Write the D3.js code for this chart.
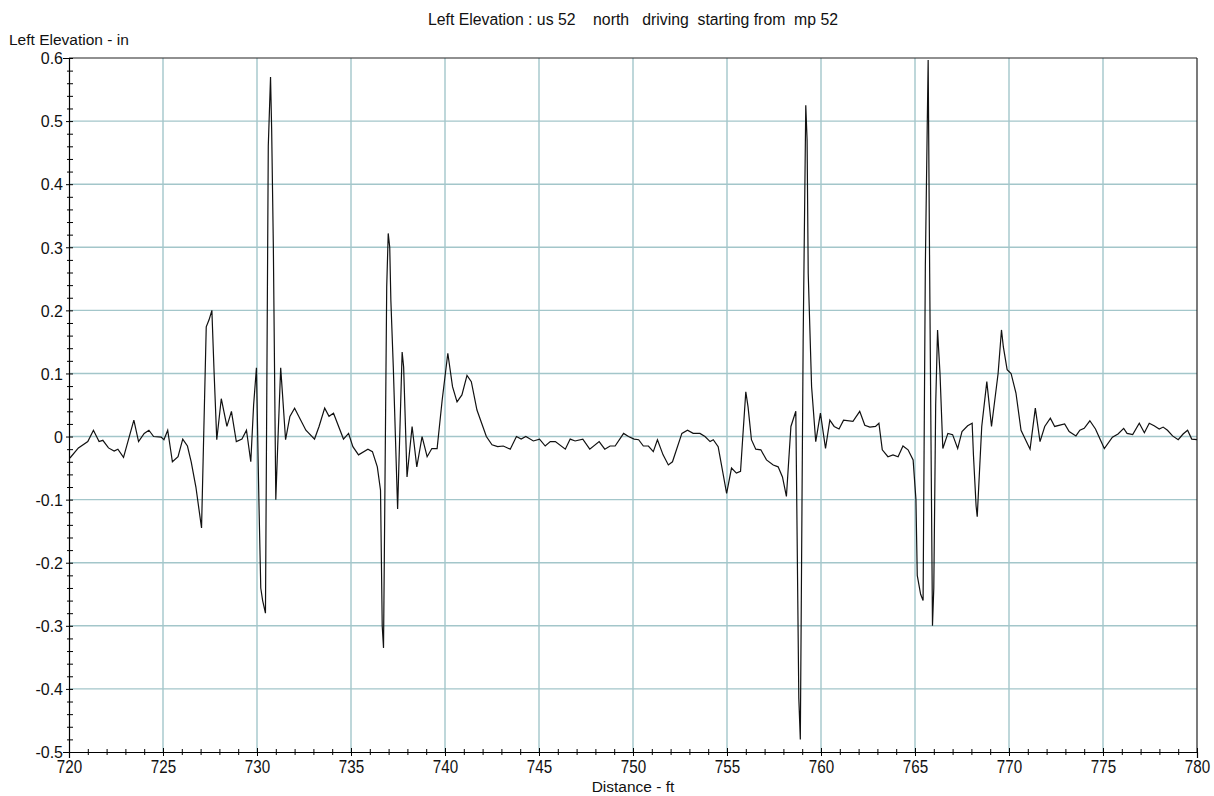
<!DOCTYPE html>
<html>
<head>
<meta charset="utf-8">
<script src="https://cdn.jsdelivr.net/npm/d3@7"></script>
<style>
  body { margin: 0; background: #fff; }
  svg { display: block; font-family: "Liberation Sans", Arial, sans-serif; }
  .tick text { font-family: "Liberation Sans", Arial, sans-serif; }
</style>
</head>
<body>
<svg width="1214" height="796"></svg>
<script>
// chart text
var chartTitle = "Left Elevation : us 52    north   driving  starting from  mp 52";
var yLabel = "Left Elevation - in";
var xLabel = "Distance - ft";

// tick labels
var xTicks = [720, 725, 730, 735, 740, 745, 750, 755, 760, 765, 770, 775, 780];
var yTicks = [0.6, 0.5, 0.4, 0.3, 0.2, 0.1, 0, -0.1, -0.2, -0.3, -0.4, -0.5];

// profile: distance (ft) and elevation (in)
var distanceFt = [
  720.05, 720.5, 721.0, 721.3, 721.6, 721.8, 722.1, 722.4, 722.6, 722.9,
  723.45, 723.7, 724.0, 724.25, 724.5, 724.9, 725.05, 725.25, 725.5, 725.8,
  726.05, 726.3, 726.5, 726.75, 727.05, 727.3, 727.45, 727.6, 727.72, 727.86,
  728.1, 728.4, 728.64, 728.9, 729.2, 729.44, 729.67, 729.82, 729.97, 730.1,
  730.2, 730.3, 730.45, 730.6, 730.72, 730.78, 730.87, 731.0, 731.1, 731.26,
  731.35, 731.52, 731.75, 732.0, 732.6, 733.06, 733.3, 733.6, 733.83, 734.07,
  734.6, 734.87, 735.1, 735.4, 735.9, 736.14, 736.4, 736.57, 736.66, 736.73,
  736.9, 736.98, 737.06, 737.12, 737.25, 737.48, 737.72, 737.8, 737.98, 738.25,
  738.5, 738.78, 739.05, 739.3, 739.58, 739.85, 740.15, 740.4, 740.64, 740.9,
  741.17, 741.4, 741.7, 741.95, 742.2, 742.5, 742.8, 743.1, 743.47, 743.8,
  744.05, 744.3, 744.7, 745.03, 745.33, 745.6, 745.87, 746.4, 746.66, 746.92,
  747.33, 747.7, 748.2, 748.5, 748.78, 749.05, 749.5, 749.76, 750.06, 750.3,
  750.55, 750.82, 751.08, 751.3, 751.6, 751.88, 752.1, 752.6, 752.9, 753.2,
  753.56, 753.83, 754.1, 754.27, 754.53, 754.98, 755.24, 755.5, 755.72, 755.83,
  756.0, 756.12, 756.3, 756.53, 756.8, 757.1, 757.46, 757.72, 757.95, 758.16,
  758.4, 758.66, 758.82, 758.9, 759.05, 759.19, 759.26, 759.32, 759.5, 759.72,
  759.97, 760.24, 760.47, 760.7, 760.96, 761.2, 761.7, 762.06, 762.33, 762.6,
  762.9, 763.08, 763.26, 763.56, 763.83, 764.1, 764.36, 764.63, 764.9, 765.05,
  765.12, 765.3, 765.43, 765.55, 765.65, 765.7, 765.78, 765.93, 766.0, 766.1,
  766.2, 766.25, 766.33, 766.48, 766.75, 767.0, 767.27, 767.5, 767.8, 768.04,
  768.11, 768.25, 768.31, 768.55, 768.82, 769.07, 769.42, 769.6, 769.7, 769.9,
  770.11, 770.37, 770.64, 771.12, 771.4, 771.65, 771.9, 772.2, 772.43, 772.96,
  773.2, 773.56, 773.77, 774.0, 774.3, 774.6, 775.07, 775.5, 775.8, 776.1,
  776.28, 776.58, 776.93, 777.2, 777.46, 777.72, 777.99, 778.2, 778.43, 778.7,
  779.0, 779.26, 779.5, 779.72, 780.0
];
var elevationIn = [
  -0.034, -0.018, -0.008, 0.010, -0.008, -0.006, -0.018, -0.023, -0.020, -0.033,
  0.026, -0.008, 0.005, 0.010, 0.000, -0.001, -0.005, 0.010, -0.040, -0.032,
  -0.004, -0.015, -0.040, -0.080, -0.145, 0.174, 0.185, 0.200, 0.100, -0.005,
  0.060, 0.016, 0.040, -0.008, -0.004, 0.010, -0.040, 0.050, 0.109, -0.100,
  -0.240, -0.260, -0.280, 0.460, 0.570, 0.486, 0.300, -0.100, -0.016, 0.109,
  0.070, -0.005, 0.032, 0.045, 0.010, -0.004, 0.016, 0.045, 0.032, 0.037,
  -0.004, 0.005, -0.016, -0.029, -0.020, -0.024, -0.048, -0.085, -0.300, -0.335,
  0.238, 0.322, 0.300, 0.216, 0.110, -0.115, 0.134, 0.110, -0.064, 0.016,
  -0.048, 0.000, -0.032, -0.019, -0.019, 0.058, 0.132, 0.079, 0.055, 0.066,
  0.097, 0.087, 0.042, 0.021, 0.000, -0.013, -0.016, -0.015, -0.020, 0.000,
  -0.004, 0.000, -0.007, -0.004, -0.015, -0.008, -0.008, -0.020, -0.004, -0.007,
  -0.004, -0.020, -0.008, -0.020, -0.015, -0.015, 0.005, 0.000, -0.004, -0.005,
  -0.015, -0.015, -0.024, -0.005, -0.029, -0.045, -0.040, 0.005, 0.010, 0.005,
  0.005, 0.000, -0.008, -0.005, -0.016, -0.090, -0.050, -0.058, -0.055, -0.005,
  0.071, 0.047, -0.005, -0.020, -0.021, -0.037, -0.045, -0.048, -0.064, -0.095,
  0.016, 0.040, -0.415, -0.480, 0.150, 0.525, 0.470, 0.259, 0.079, -0.008,
  0.037, -0.019, 0.026, 0.016, 0.012, 0.026, 0.024, 0.040, 0.018, 0.015,
  0.016, 0.021, -0.021, -0.032, -0.029, -0.032, -0.015, -0.021, -0.037, -0.100,
  -0.220, -0.250, -0.260, 0.270, 0.490, 0.597, 0.260, -0.300, -0.240, 0.050,
  0.169, 0.142, 0.100, -0.019, 0.005, 0.003, -0.019, 0.008, 0.017, 0.021,
  -0.030, -0.110, -0.127, 0.016, 0.087, 0.016, 0.100, 0.169, 0.142, 0.106,
  0.100, 0.069, 0.010, -0.020, 0.045, -0.008, 0.016, 0.029, 0.016, 0.020,
  0.008, 0.001, 0.010, 0.013, 0.025, 0.012, -0.019, -0.001, 0.004, 0.013,
  0.005, 0.003, 0.021, 0.006, 0.021, 0.017, 0.012, 0.015, 0.010, 0.001,
  -0.005, 0.004, 0.010, -0.004, -0.005
];

var svg = d3.select("svg"),
  margin = { top: 58, right: 17, bottom: 44, left: 69 },
  width = +svg.attr("width") - margin.left - margin.right,
  height = +svg.attr("height") - margin.top - margin.bottom,
  g = svg.append("g")
    .attr("transform", "translate(" + margin.left + "," + margin.top + ")");

var x = d3.scaleLinear().domain([720, 780]).range([0, width]);
var y = d3.scaleLinear().domain([-0.5, 0.6]).range([height, 0]);

var gridColor = "#a3c6ca";

// grid
g.append("g").selectAll("line")
  .data(xTicks.slice(1, -1))
  .enter().append("line")
  .attr("x1", function(d) { return x(d); })
  .attr("x2", function(d) { return x(d); })
  .attr("y1", 0).attr("y2", height)
  .attr("stroke", gridColor).attr("stroke-width", 1.4);

g.append("g").selectAll("line")
  .data(yTicks.slice(1, -1))
  .enter().append("line")
  .attr("x1", 0).attr("x2", width)
  .attr("y1", function(d) { return y(d); })
  .attr("y2", function(d) { return y(d); })
  .attr("stroke", gridColor).attr("stroke-width", 1.4);

// frame top / right
g.append("line").attr("x1", 0).attr("x2", width).attr("y1", 0).attr("y2", 0)
  .attr("stroke", "#222").attr("stroke-width", 1.2);
g.append("line").attr("x1", width).attr("x2", width).attr("y1", 0).attr("y2", height)
  .attr("stroke", "#222").attr("stroke-width", 1.2);

// profile line
var points = distanceFt.map(function(d, i) { return [d, elevationIn[i]]; });
var line = d3.line()
  .x(function(d) { return x(d[0]); })
  .y(function(d) { return y(d[1]); });

g.append("path")
  .datum(points)
  .attr("fill", "none")
  .attr("stroke", "#111")
  .attr("stroke-width", 1.2)
  .attr("d", line);

// minor ticks
var xMinor = d3.range(721, 780, 1).filter(function(v) { return v % 5 !== 0; });
var yMinor = d3.range(-48, 60, 2).filter(function(v) { return v % 10 !== 0; })
  .map(function(v) { return v / 100; });

var xMinorAxis = g.append("g")
  .attr("transform", "translate(0," + height + ")")
  .call(d3.axisBottom(x).tickValues(xMinor).tickFormat(""));
xMinorAxis.select(".domain").remove();
xMinorAxis.selectAll(".tick line").attr("y1", -3).attr("y2", 3).attr("stroke", "#000");

var yMinorAxis = g.append("g")
  .call(d3.axisLeft(y).tickValues(yMinor).tickFormat(""));
yMinorAxis.select(".domain").remove();
yMinorAxis.selectAll(".tick line").attr("x1", -2).attr("x2", 4).attr("stroke", "#000");

// main axes
var xAxis = g.append("g")
  .attr("transform", "translate(0," + height + ")")
  .call(d3.axisBottom(x).tickValues(xTicks).tickFormat(d3.format("d")));
xAxis.select(".domain").attr("stroke", "#000").attr("stroke-width", 1.2);
xAxis.selectAll(".tick line").attr("y1", -4).attr("y2", 4).attr("stroke", "#000");
xAxis.selectAll(".tick text")
  .attr("y", 18.6).attr("dy", null)
  .attr("transform", "scale(0.95,1.15)")
  .attr("font-size", 16).attr("fill", "#111");

var yAxis = g.append("g")
  .call(d3.axisLeft(y).tickValues(yTicks).tickFormat(function(d) {
    return d === 0 ? "0" : d.toFixed(1);
  }));
yAxis.select(".domain").attr("stroke", "#000").attr("stroke-width", 1.2);
yAxis.selectAll(".tick line").attr("x1", -3).attr("x2", 4).attr("stroke", "#000");
yAxis.selectAll(".tick text")
  .attr("x", -6).attr("dy", "0.36em")
  .attr("font-size", 16).attr("fill", "#111");

// labels
svg.append("text")
  .attr("x", 633).attr("y", 25)
  .attr("text-anchor", "middle")
  .attr("font-size", 15.8)
  .attr("fill", "#111")
  .style("white-space", "pre")
  .text(chartTitle);

svg.append("text")
  .attr("x", 9).attr("y", 45)
  .attr("font-size", 15.5)
  .attr("fill", "#111")
  .text(yLabel);

svg.append("text")
  .attr("x", 633).attr("y", 792)
  .attr("text-anchor", "middle")
  .attr("font-size", 15.5)
  .attr("fill", "#111")
  .text(xLabel);
</script>
</body>
</html>
